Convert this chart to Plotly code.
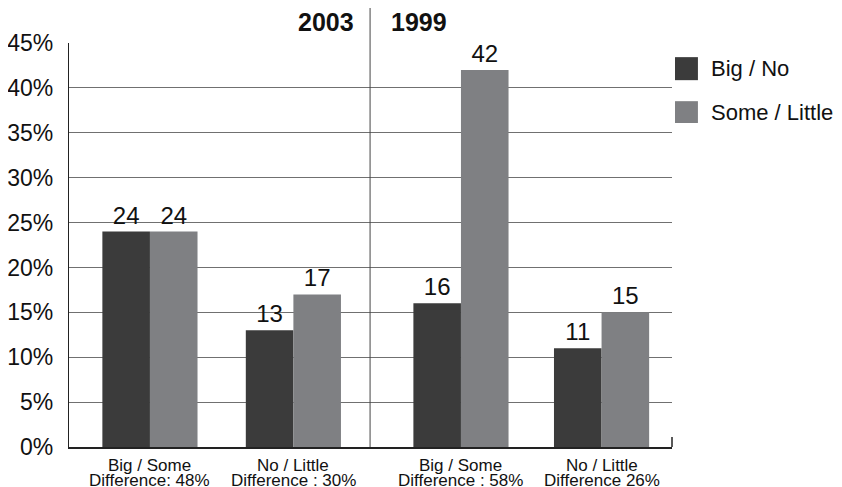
import plotly.graph_objects as go

cat_line1 = ["Big / Some", "No / Little", "Big / Some", "No / Little"]
cat_line2 = ["Difference: 48%", "Difference : 30%", "Difference : 58%", "Difference 26%"]
x_pos = [0.57, 1.58, 2.76, 3.75]
series_names = ["Big / No", "Some / Little"]
big_no = [24, 13, 16, 11]
some_little = [24, 17, 42, 15]
year_labels = ["2003", "1999"]
divider_x = 2.12
y_ticks = [0, 5, 10, 15, 20, 25, 30, 35, 40, 45]
y_tick_labels = ["0%", "5%", "10%", "15%", "20%", "25%", "30%", "35%", "40%", "45%"]

colors = ["#3b3b3b", "#7f8083"]
FONT = "Liberation Sans, Arial, sans-serif"
bw = 0.335

fig = go.Figure()
for name, vals, col, off in [(series_names[0], big_no, colors[0], -bw),
                             (series_names[1], some_little, colors[1], 0)]:
    fig.add_trace(go.Bar(
        x=x_pos, y=vals, name=name, width=bw, offset=off,
        marker=dict(color=col, line=dict(width=0)),
        text=[str(v) for v in vals], texttemplate="%{text}", textposition="outside",
        constraintext="none", cliponaxis=False,
        textfont=dict(family=FONT, size=24, color="#111"),
        showlegend=False,
    ))

# category labels (two tight lines)
for xp, l1, l2 in zip(x_pos, cat_line1, cat_line2):
    fig.add_annotation(x=xp, xref="x", y=0, yref="paper", text=l1, showarrow=False,
                       xanchor="center", yanchor="middle", yshift=-18,
                       font=dict(family=FONT, size=17, color="#111"))
    fig.add_annotation(x=xp, xref="x", y=0, yref="paper", text=l2, showarrow=False,
                       xanchor="center", yanchor="middle", yshift=-33,
                       font=dict(family=FONT, size=17, color="#111"))

# divider
fig.add_shape(type="line", xref="x", yref="paper", x0=divider_x, x1=divider_x,
              y0=0, y1=1.087, line=dict(color="#444", width=1))
# small end tick at right of x axis
fig.add_shape(type="line", xref="paper", yref="paper", x0=1, x1=1,
              y0=0, y1=0.025, line=dict(color="#222", width=1.5))
fig.add_annotation(x=divider_x, xref="x", y=1, yref="paper", text="<b>" + year_labels[0] + "</b>",
                   showarrow=False, xanchor="right", yanchor="bottom", xshift=-14, yshift=5,
                   font=dict(family=FONT, size=25, color="#111"))
fig.add_annotation(x=divider_x, xref="x", y=1, yref="paper", text="<b>" + year_labels[1] + "</b>",
                   showarrow=False, xanchor="left", yanchor="bottom", xshift=19, yshift=5,
                   font=dict(family=FONT, size=25, color="#111"))

# custom legend
leg = [(0.965, 0.908, 0.936), (0.856, 0.802, 0.829)]
for (y1, y0, yt), name, col in zip(leg, series_names, colors):
    fig.add_shape(type="rect", xref="paper", yref="paper", x0=1.005, x1=1.043,
                  y0=y0, y1=y1, fillcolor=col, line=dict(width=0))
    fig.add_annotation(x=1.061, xref="paper", y=yt, yref="paper", text=name,
                       showarrow=False, xanchor="left", yanchor="middle",
                       font=dict(family=FONT, size=22, color="#111"))

fig.update_layout(
    width=834, height=479,
    margin=dict(l=61, r=170, t=35, b=40, autoexpand=False),
    paper_bgcolor="white", plot_bgcolor="white",
    barmode="overlay",
    xaxis=dict(range=[0, 4.246], tickvals=x_pos, showticklabels=False, automargin=False,
               showline=True, linecolor="#222", linewidth=1.5, showgrid=False,
               zeroline=False, ticks=""),
    yaxis=dict(range=[0, 45], tickvals=y_ticks, ticktext=y_tick_labels, automargin=False,
               showline=True, linecolor="#222", linewidth=1.2,
               showgrid=True, gridcolor="#707070", gridwidth=1, zeroline=False,
               ticks="", ticklabelstandoff=10,
               tickfont=dict(family=FONT, size=23, color="#111")),
)

fig.write_html("out.html")
